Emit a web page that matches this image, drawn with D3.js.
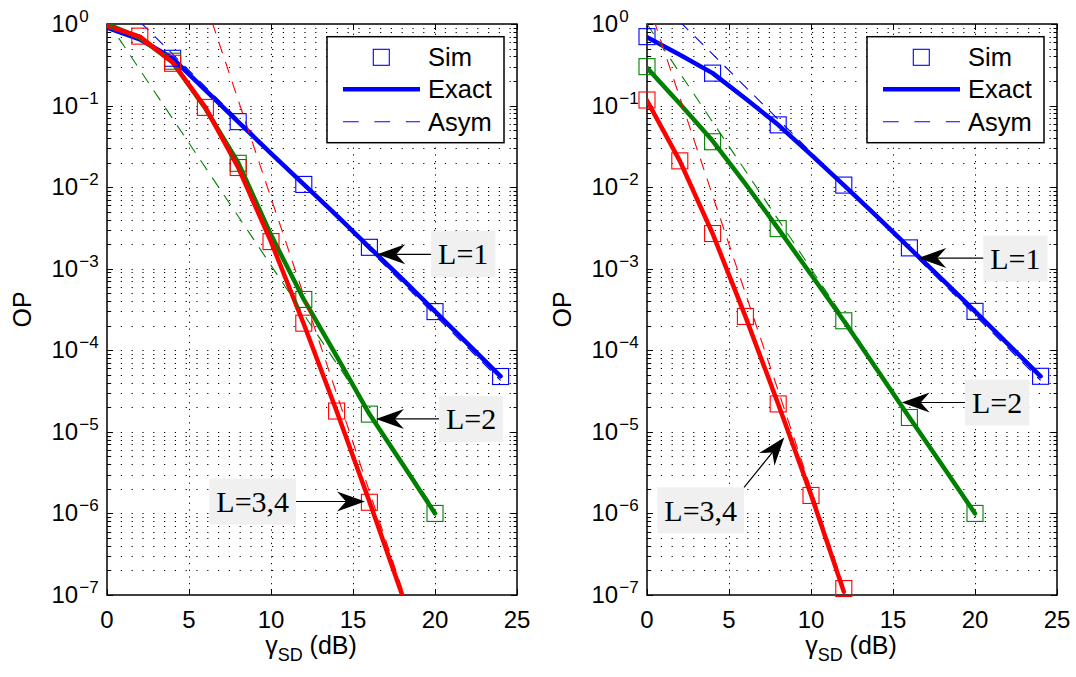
<!DOCTYPE html>
<html><head><meta charset="utf-8">
<script src="https://cdn.jsdelivr.net/npm/d3@7"></script>
<style>body{margin:0;background:#fff}svg{display:block}</style>
</head><body><svg id="c" width="1076" height="677"></svg>
<script>
// ---------- shared ----------
const xTickValues = [0, 5, 10, 15, 20, 25];
const yTickExponents = [0, -1, -2, -3, -4, -5, -6, -7];
const seriesNames = ["L=1", "L=2", "L=3,4"];
const seriesColors = ["#0000ff", "#008000", "#ff0000"];
const legendLabels = ["Sim", "Exact", "Asym"];

// ---------- left panel ----------
const leftSimX_L1 = [4, 8, 12, 16, 20, 24];
const leftSimY_L1 = [0.38, 0.0635, 0.0108, 1.83e-3, 2.98e-4, 4.77e-5];
const leftSimX_L2 = [4, 8, 12, 16, 20];
const leftSimY_L2 = [0.35, 0.0196, 4.2e-4, 1.65e-5, 1.0e-6];
const leftSimX_L34 = [2, 4, 6, 8, 10, 12, 14, 16];
const leftSimY_L34 = [0.71, 0.33, 0.095, 0.0174, 2.15e-3, 2.15e-4, 1.8e-5, 1.37e-6];

const leftExactX_L1 = [0, 2, 4, 6, 8, 10, 12, 14, 16, 18, 20, 22, 24];
const leftExactY_L1 = [0.9, 0.65, 0.38, 0.155, 0.063, 0.026, 0.0108, 4.5e-3, 1.83e-3, 7.5e-4, 3.0e-4, 1.2e-4, 4.8e-5];
const leftExactX_L2 = [0, 2, 4, 6, 8, 10, 12, 14, 16, 18, 20];
const leftExactY_L2 = [1.0, 0.68, 0.34, 0.092, 0.02, 2.6e-3, 4.2e-4, 8.5e-5, 1.65e-5, 4.1e-6, 1.0e-6];
const leftExactX_L34 = [0, 2, 4, 6, 8, 10, 12, 14, 16, 18];
const leftExactY_L34 = [0.95, 0.7, 0.34, 0.095, 0.0174, 2.15e-3, 2.1e-4, 1.8e-5, 1.4e-6, 1.0e-7];

const leftAsymX_L1 = [2, 4, 8, 12, 16, 20, 24];
const leftAsymY_L1 = [1.07, 0.427, 0.0676, 0.0107, 1.7e-3, 2.69e-4, 4.27e-5];
const leftAsymX_L2 = [0, 4, 8, 12, 16, 20];
const leftAsymY_L2 = [1.1, 0.069, 4.4e-3, 2.75e-4, 1.74e-5, 1.1e-6];
const leftAsymX_L34 = [6, 8, 10, 12, 14, 16, 18];
const leftAsymY_L34 = [1.86, 0.117, 7.4e-3, 4.7e-4, 2.95e-5, 1.86e-6, 1.17e-7];

// annotations: arrow tip (data), text box left edge x (data), box centre y (data)
const leftNoteLabels = ["L=1", "L=2", "L=3,4"];
const leftNoteTipX = [16.48, 16.4, 15.73];
const leftNoteTipY = [1.5e-3, 1.44e-5, 1.4e-6];
const leftNoteBoxX = [19.76, 20.24, 6.24];
const leftNoteBoxY = [1.52e-3, 1.44e-5, 1.4e-6];

// ---------- right panel ----------
const rightSimX_L1 = [0, 4, 8, 12, 16, 20, 24];
const rightSimY_L1 = [0.7, 0.25, 0.058, 0.0106, 1.8e-3, 3.0e-4, 4.8e-5];
const rightSimX_L2 = [0, 4, 8, 12, 16, 20];
const rightSimY_L2 = [0.3, 0.036, 3.1e-3, 2.3e-4, 1.5e-5, 1.0e-6];
const rightSimX_L34 = [0, 2, 4, 6, 8, 10, 12];
const rightSimY_L34 = [0.117, 0.021, 2.7e-3, 2.6e-4, 2.2e-5, 1.66e-6, 1.2e-7];

const rightExactX_L1 = [0, 2, 4, 6, 8, 10, 12, 14, 16, 18, 20, 22, 24];
const rightExactY_L1 = [0.69, 0.42, 0.25, 0.122, 0.058, 0.025, 0.0106, 4.4e-3, 1.8e-3, 7.4e-4, 3.0e-4, 1.2e-4, 4.8e-5];
const rightExactX_L2 = [0, 2, 4, 6, 8, 10, 12, 14, 16, 18, 20];
const rightExactY_L2 = [0.29, 0.105, 0.037, 0.011, 3.1e-3, 8.5e-4, 2.3e-4, 5.9e-5, 1.5e-5, 3.9e-6, 1.0e-6];
const rightExactX_L34 = [0, 2, 4, 6, 8, 10, 12];
const rightExactY_L34 = [0.115, 0.021, 2.7e-3, 2.6e-4, 2.2e-5, 1.7e-6, 1.1e-7];

const rightAsymX_L1 = [2, 4, 8, 12, 16, 20, 24];
const rightAsymY_L1 = [1.07, 0.427, 0.0676, 0.0107, 1.7e-3, 2.69e-4, 4.27e-5];
const rightAsymX_L2 = [0, 4, 8, 12, 16, 20];
const rightAsymY_L2 = [1.0, 0.063, 4.0e-3, 2.5e-4, 1.58e-5, 1.0e-6];
const rightAsymX_L34 = [0, 2, 4, 6, 8, 10, 12];
const rightAsymY_L34 = [2.0, 0.126, 7.9e-3, 5.0e-4, 3.2e-5, 2.0e-6, 1.26e-7];

const rightNoteLabels = ["L=1", "L=2", "L=3,4"];
const rightNoteTipX = [16.54, 15.53, 8.37];
const rightNoteTipY = [1.35e-3, 2.29e-5, 8.5e-6];
const rightNoteBoxX = [20.5, 19.39, 0.63];
const rightNoteBoxY = [1.33e-3, 2.29e-5, 1.09e-6];
const rightNoteTail = ["side", "side", "topright"];

// ---------- drawing ----------
const svg = d3.select("#c");
const SANS = "'Liberation Sans', Arial, Helvetica, sans-serif";
const SERIF = "'Liberation Serif', 'Times New Roman', serif";

function zip(xs, ys) { return xs.map((x, i) => [x, ys[i]]); }

function drawPanel(cfg, idx) {
  const L = cfg.left, R = cfg.right, T = 24, B = 595;
  const x = d3.scaleLinear().domain([0, 25]).range([L, R]);
  const y = d3.scaleLog().domain([1e-7, 1]).range([B, T]);
  const g = svg.append("g");
  const clipId = "clip" + idx;
  svg.append("clipPath").attr("id", clipId).append("rect")
    .attr("x", L).attr("y", T).attr("width", R - L).attr("height", B - T);

  // grid (MATLAB-like dotted, major+minor on y, major on x)
  const minorVals = [];
  for (let e = -7; e < 0; e++) for (let m = 1; m <= 9; m++) minorVals.push(m * Math.pow(10, e));
  minorVals.push(1);
  const grid = g.append("g").attr("stroke", "#000").attr("stroke-width", 1)
    .attr("stroke-dasharray", "1.2,9.6").attr("fill", "none");
  minorVals.forEach(v => {
    const yy = Math.round(y(v)) + 0.5;
    if (yy < T + 1 || yy > B - 1) return;
    grid.append("line").attr("x1", L + 3).attr("x2", R).attr("y1", yy).attr("y2", yy);
  });
  xTickValues.slice(1, -1).forEach(v => {
    const xx = Math.round(x(v)) + 0.5;
    grid.append("line").attr("x1", xx).attr("x2", xx).attr("y1", T + 3).attr("y2", B)
      .attr("stroke-dasharray", "1.2,5.5");
  });

  // axes box
  g.append("rect").attr("x", L).attr("y", T).attr("width", R - L).attr("height", B - T)
    .attr("fill", "none").attr("stroke", "#000").attr("stroke-width", 1.5);

  // ticks
  const tk = g.append("g").attr("stroke", "#000").attr("stroke-width", 1);
  xTickValues.forEach(v => {
    const xx = Math.round(x(v)) + 0.5;
    tk.append("line").attr("x1", xx).attr("x2", xx).attr("y1", B).attr("y2", B - 6);
    tk.append("line").attr("x1", xx).attr("x2", xx).attr("y1", T).attr("y2", T + 6);
  });
  minorVals.forEach(v => {
    const yy = Math.round(y(v)) + 0.5;
    const major = Math.abs(Math.log10(v) - Math.round(Math.log10(v))) < 1e-9;
    const len = major ? 6 : 3.5;
    tk.append("line").attr("x1", L).attr("x2", L + len).attr("y1", yy).attr("y2", yy);
    tk.append("line").attr("x1", R).attr("x2", R - len).attr("y1", yy).attr("y2", yy);
  });

  // tick labels
  xTickValues.forEach(v => {
    g.append("text").attr("x", x(v)).attr("y", B + 33).attr("text-anchor", "middle")
      .attr("font-family", SANS).attr("font-size", 24).text(v);
  });
  yTickExponents.forEach(e => {
    const t = g.append("text").attr("x", L - 55.5).attr("y", y(Math.pow(10, e)) + 8)
      .attr("font-family", SANS).attr("font-size", 24);
    t.append("tspan").text("10");
    t.append("tspan").attr("dx", 1).attr("dy", -10).attr("font-size", 17)
      .text(e === 0 ? "0" : "\u2212" + (-e));
  });

  // axis labels
  const xl = g.append("text").attr("x", (L + R) / 2 - 1).attr("y", 654).attr("text-anchor", "middle")
    .attr("font-family", SANS).attr("font-size", 25);
  xl.append("tspan").text("\u03b3");
  xl.append("tspan").attr("dy", 7).attr("font-size", 18).text("SD");
  xl.append("tspan").attr("dy", -7).text(" (dB)");
  g.append("text").attr("transform", `translate(${L - 76},${(T + B) / 2}) rotate(-90)`)
    .attr("text-anchor", "middle").attr("font-family", SANS).attr("font-size", 25).text("OP");

  // series
  const line = d3.line().x(d => x(d[0])).y(d => y(d[1]));
  const plot = g.append("g");
  const lines = plot.append("g").attr("clip-path", `url(#${clipId})`);
  const sq = 16;
  cfg.sims.forEach((s, i) => {
    plot.append("g").selectAll("rect").data(s).join("rect")
      .attr("x", d => x(d[0]) - sq / 2).attr("y", d => y(d[1]) - sq / 2)
      .attr("width", sq).attr("height", sq).attr("fill", "none")
      .attr("stroke", seriesColors[i]).attr("stroke-width", 1.1);
  });
  cfg.exacts.forEach((s, i) => {
    lines.append("path").datum(s).attr("d", line).attr("fill", "none")
      .attr("stroke", seriesColors[i]).attr("stroke-width", 4.5)
      .attr("stroke-linejoin", "round").attr("stroke-linecap", "round");
  });
  cfg.asyms.forEach((s, i) => {
    lines.append("path").datum(s).attr("d", line).attr("fill", "none")
      .attr("stroke", seriesColors[i]).attr("stroke-width", 1.1)
      .attr("stroke-dasharray", "12,9");
  });

  // legend
  const lgW = 177, lgH = 106, lgX = R - 13 - lgW, lgY = T + 12.7;
  const lg = g.append("g");
  lg.append("rect").attr("x", lgX).attr("y", lgY).attr("width", lgW).attr("height", lgH)
    .attr("fill", "#fff").attr("stroke", "#000").attr("stroke-width", 1.5);
  const rowY = [lgY + 20.6, lgY + 52.6, lgY + 85];
  lg.append("rect").attr("x", lgX + 54.3 - sq / 2).attr("y", rowY[0] - sq / 2)
    .attr("width", sq).attr("height", sq).attr("fill", "none")
    .attr("stroke", seriesColors[0]).attr("stroke-width", 1.1);
  lg.append("line").attr("x1", lgX + 16).attr("x2", lgX + 93).attr("y1", rowY[1]).attr("y2", rowY[1])
    .attr("stroke", seriesColors[0]).attr("stroke-width", 4.5);
  lg.append("line").attr("x1", lgX + 16).attr("x2", lgX + 93).attr("y1", rowY[2]).attr("y2", rowY[2])
    .attr("stroke", seriesColors[0]).attr("stroke-width", 1.1).attr("stroke-dasharray", "15.7,15.7");
  legendLabels.forEach((lab, i) => {
    lg.append("text").attr("x", lgX + 101).attr("y", rowY[i] + 9)
      .attr("font-family", SANS).attr("font-size", 25.5).text(lab);
  });

  // annotations
  cfg.notes.forEach(n => {
    const fs = 30, padX = 7, h = 46;
    const ann = g.append("g");
    const bx = x(n.boxX), bcy = y(n.boxY);
    const bg = ann.append("rect").attr("fill", "#f0f0f0");
    const tx = ann.append("text").attr("x", bx + padX).attr("y", bcy + 10.5)
      .attr("font-family", SERIF).attr("font-size", fs).text(n.label);
    const w = tx.node().getComputedTextLength() + 2 * padX;
    bg.attr("x", bx).attr("y", bcy - h / 2).attr("width", w).attr("height", h);
    const tipX = x(n.tipX), tipY = y(n.tipY);
    let sx, sy;
    if (n.tail === "topright") { sx = bx + w; sy = bcy - h / 2; }
    else { sx = tipX < bx ? bx : bx + w; sy = tipY; }
    const ang = Math.atan2(tipY - sy, tipX - sx);
    const hl = 28, hw = 10, notch = 19;
    const ux = Math.cos(ang), uy = Math.sin(ang), px = -uy, py = ux;
    const bxp = tipX - ux * hl, byp = tipY - uy * hl;
    ann.append("line").attr("x1", sx).attr("y1", sy)
      .attr("x2", tipX - ux * notch).attr("y2", tipY - uy * notch)
      .attr("stroke", "#000").attr("stroke-width", 1.2);
    const pts = [
      [tipX, tipY],
      [bxp + px * hw, byp + py * hw],
      [tipX - ux * notch, tipY - uy * notch],
      [bxp - px * hw, byp - py * hw]
    ];
    ann.append("path").attr("d", "M" + pts.map(p => p.join(",")).join("L") + "Z").attr("fill", "#000");
  });
}

drawPanel({
  left: 107, right: 517,
  sims: [zip(leftSimX_L1, leftSimY_L1), zip(leftSimX_L2, leftSimY_L2), zip(leftSimX_L34, leftSimY_L34)],
  exacts: [zip(leftExactX_L1, leftExactY_L1), zip(leftExactX_L2, leftExactY_L2), zip(leftExactX_L34, leftExactY_L34)],
  asyms: [zip(leftAsymX_L1, leftAsymY_L1), zip(leftAsymX_L2, leftAsymY_L2), zip(leftAsymX_L34, leftAsymY_L34)],
  notes: leftNoteLabels.map((l, i) => ({label: l, tipX: leftNoteTipX[i], tipY: leftNoteTipY[i],
    boxX: leftNoteBoxX[i], boxY: leftNoteBoxY[i], tail: "side"}))
}, 0);

drawPanel({
  left: 647, right: 1057,
  sims: [zip(rightSimX_L1, rightSimY_L1), zip(rightSimX_L2, rightSimY_L2), zip(rightSimX_L34, rightSimY_L34)],
  exacts: [zip(rightExactX_L1, rightExactY_L1), zip(rightExactX_L2, rightExactY_L2), zip(rightExactX_L34, rightExactY_L34)],
  asyms: [zip(rightAsymX_L1, rightAsymY_L1), zip(rightAsymX_L2, rightAsymY_L2), zip(rightAsymX_L34, rightAsymY_L34)],
  notes: rightNoteLabels.map((l, i) => ({label: l, tipX: rightNoteTipX[i], tipY: rightNoteTipY[i],
    boxX: rightNoteBoxX[i], boxY: rightNoteBoxY[i], tail: rightNoteTail[i]}))
}, 1);
</script>
</body></html>
